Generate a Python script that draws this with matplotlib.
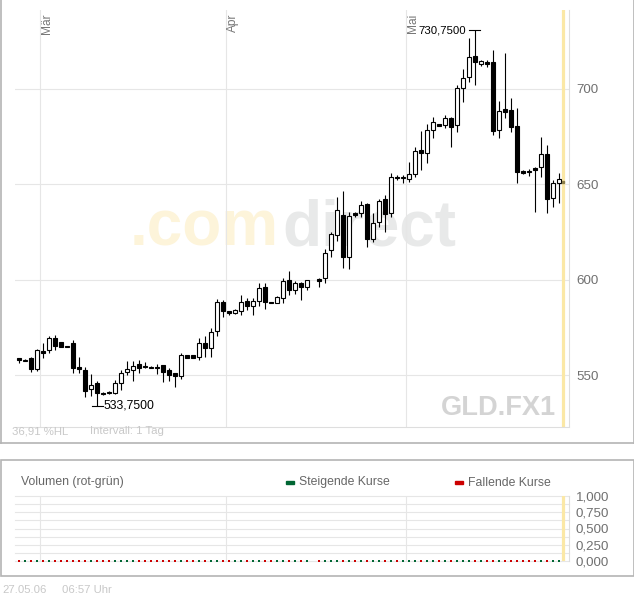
import matplotlib
matplotlib.use("Agg")
import matplotlib.pyplot as plt
import numpy as np
import pandas as pd
from matplotlib.patches import Rectangle
from matplotlib.lines import Line2D
from matplotlib.ticker import FuncFormatter

W, H = 634, 597
plt.rcParams['font.family'] = ['Liberation Sans', 'DejaVu Sans']

# ---------------- data ----------------
start_day = "2006-02-25"
end_day = "2006-05-26"
missing_days = ["2006-04-15"]
month_starts = ["2006-03-01", "2006-04-01", "2006-05-01"]
month_labels = ["Mär", "Apr", "Mai"]

opens = [558.9, 557.4, 559.1, 553.1, 562.6, 563.1, 569.2, 567.1, 565.4, 566.6,
         554.2, 552.6, 542.5, 546.0, 540.4, 541.0, 540.4, 546.0, 551.7, 552.6,
         555.8, 554.9, 554.4, 554.4, 555.2, 552.6, 551.2, 549.7, 560.5, 560.5,
         559.3, 566.6, 564.0, 573.1, 588.5, 583.6, 582.3, 583.7, 589.0, 586.2,
         588.8, 596.0, 588.5, 587.9, 590.6, 599.8, 594.6, 598.4, 596.3,
         600.2, 600.7, 615.5, 623.4, 634.0, 611.7, 634.8, 635.1, 639.7, 621.2,
         630.4, 642.5, 635.1, 654.0, 653.3, 652.6, 655.4, 668.0, 666.3, 678.5,
         681.5, 681.1, 684.6, 681.1, 700.3, 706.1, 717.3, 713.0, 714.3, 714.0,
         678.5, 689.3, 689.0, 680.6, 656.8, 657.1, 658.4, 658.9, 665.7, 642.7, 650.5]
highs = [559.0, 558.3, 559.6, 563.5, 566.6, 570.5, 571.0, 567.5, 565.4, 568.4,
         559.6, 554.4, 550.5, 546.7, 541.3, 541.8, 547.4, 552.6, 557.3, 557.2,
         557.9, 557.0, 554.5, 555.8, 555.5, 553.5, 551.2, 561.7, 560.5, 560.5,
         569.2, 570.5, 574.5, 589.7, 589.3, 583.6, 584.5, 591.8, 590.2, 590.4,
         598.1, 598.4, 588.5, 591.4, 600.7, 604.7, 599.3, 598.9, 599.8,
         600.7, 615.9, 625.1, 643.2, 646.7, 635.7, 635.7, 641.1, 640.4, 635.1,
         642.5, 644.4, 655.8, 654.9, 654.9, 661.9, 669.8, 678.1, 681.5, 685.1,
         681.6, 686.4, 685.5, 702.1, 710.3, 726.6, 730.75, 715.2, 715.2, 720.5,
         693.7, 718.7, 695.1, 689.9, 657.5, 658.0, 659.3, 675.0, 670.6, 652.3, 655.8]
lows = [556.5, 557.3, 551.7, 552.3, 558.7, 561.4, 563.1, 564.5, 564.9, 551.2,
        550.9, 538.3, 539.0, 533.75, 539.5, 539.9, 540.0, 542.1, 550.0, 547.0,
        551.2, 553.5, 553.6, 550.5, 546.5, 547.0, 543.9, 547.7, 558.7, 558.7,
        557.9, 559.6, 559.6, 570.5, 580.6, 581.5, 582.0, 581.5, 584.1, 581.5,
        586.2, 584.4, 587.6, 587.6, 587.9, 592.0, 592.5, 589.3, 594.6,
        596.3, 598.4, 611.7, 620.5, 606.3, 605.5, 633.0, 633.0, 617.3, 619.9,
        627.8, 625.2, 633.0, 652.3, 650.5, 651.4, 654.0, 657.5, 661.0, 674.1,
        680.7, 679.4, 669.8, 677.6, 693.4, 703.8, 702.1, 712.1, 711.4, 675.9,
        674.1, 684.6, 677.6, 650.5, 655.4, 654.5, 635.3, 654.0, 634.8, 637.9, 640.0]
closes = [557.7, 558.0, 553.3, 563.1, 561.7, 569.6, 565.2, 564.9, 564.9, 553.8,
          553.0, 541.8, 544.9, 540.4, 539.9, 540.4, 545.6, 550.9, 553.1, 554.7,
          553.8, 554.0, 553.7, 553.7, 551.7, 550.0, 549.7, 560.5, 558.7, 558.7,
          566.6, 564.0, 572.7, 588.5, 583.7, 582.7, 583.9, 588.1, 586.2, 588.8,
          595.5, 588.5, 587.6, 590.7, 599.3, 594.6, 598.4, 596.3, 599.8,
          599.5, 613.8, 623.9, 636.5, 611.7, 633.4, 634.0, 639.0, 621.2, 629.5,
          641.1, 634.3, 654.0, 653.3, 654.0, 655.4, 667.7, 666.3, 678.5, 682.5,
          680.8, 684.6, 680.2, 700.3, 705.6, 716.6, 714.3, 714.7, 712.9, 678.0,
          688.6, 688.1, 679.9, 656.6, 655.9, 656.6, 657.5, 665.7, 642.1, 650.5, 652.6]
last_price = 651.0
price_ticks = [550, 600, 650, 700]
volume_ticks = [0.0, 0.25, 0.5, 0.75, 1.0]

# ---------------- helpers ----------------
start = pd.Timestamp(start_day)
days = pd.date_range(start_day, end_day, freq="D").drop(pd.to_datetime(missing_days))
xs = np.array((days - start).days, dtype=float)
O, Hh, L, C = map(np.array, (opens, highs, lows, closes))
month_x = [(pd.Timestamp(m) - start).days - 0.5 for m in month_starts]
last_x = xs[-1] + 0.67

def rect(x0, y0, x1, y1):
    return [x0 / W, 1 - y1 / H, (x1 - x0) / W, (y1 - y0) / H]

def ftext(x, y, s, **kw):
    return fig.text(x / W, 1 - y / H, s, **kw)

GRID = "#e6e6e6"
YEL = "#fbe8a6"

fig = plt.figure(figsize=(W / 100, H / 100), dpi=100)
fig.patch.set_facecolor("white")

# panel borders
bc = "#b4b4b4"
for (x0, y0, x1, y1) in [(0.5, 0, 0.5, 443), (0, 443, 633.5, 443), (633.5, 0, 633.5, 443)]:
    fig.add_artist(Line2D([x0 / W, x1 / W], [1 - y0 / H, 1 - y1 / H], color=bc, lw=1.2))
fig.add_artist(Rectangle((0.5 / W, 1 - 576 / H), 633 / W, 116 / H, fill=False,
                         edgecolor=bc, lw=1.2, transform=fig.transFigure))

# ---------------- price axes ----------------
AX_L, AX_T, AX_R, AX_B = 15, 10, 569, 426.5
ax = fig.add_axes(rect(AX_L, AX_T, AX_R, AX_B))
ax.set_xlim(-0.667, 91.667)
ax.set_ylim(523.0, 741.4)
for s in ["top", "left"]:
    ax.spines[s].set_visible(False)
for s in ["right", "bottom"]:
    ax.spines[s].set_color("#dedede")
    ax.spines[s].set_linewidth(0.8)
ax.yaxis.tick_right()
ax.set_yticks(price_ticks)
ax.tick_params(axis="y", length=0, pad=5, labelsize=9.6, labelcolor="#707070")
ax.set_xticks([])
for v in price_ticks:
    ax.axhline(v, color=GRID, lw=0.8, zorder=1)
for mx, lab in zip(month_x, month_labels):
    ax.axvline(mx, color=GRID, lw=0.8, zorder=1)
    ax.text(mx + 0.12, 739.6, lab, rotation=90, ha="left", va="top",
            fontsize=8.6, color="#777777")

def axpx(x, y):
    return ((x - AX_L) / (AX_R - AX_L), 1 - (y - AX_T) / (AX_B - AX_T))

# watermark
ax.text(*axpx(130, 245), ".com", transform=ax.transAxes, ha="left", va="baseline",
        fontsize=46, fontweight="bold", color="#fdf4da", zorder=0)
ax.text(*axpx(456, 245), "direct", transform=ax.transAxes, ha="right", va="baseline",
        fontsize=46, fontweight="bold", color="#e8e9e9", zorder=0)
ax.text(*axpx(556, 415), "GLD.FX1", transform=ax.transAxes, ha="right", va="baseline",
        fontsize=19.6, fontweight="bold", color="#d4d4d4", zorder=0)

# yellow marker line
ax.axvline(last_x, color=YEL, lw=2.3, zorder=2)

# candles
up = C >= O
ax.vlines(xs, L, Hh, color="black", lw=0.8, zorder=3)
body_h = np.maximum(np.abs(C - O), 0.5)
body_b = np.minimum(O, C)
ax.bar(xs, body_h, bottom=body_b, width=0.52,
       color=np.where(up, "white", "black"), edgecolor="black",
       linewidth=0.8, zorder=4)
ax.plot([last_x], [last_price], marker="s", ms=1.8, color="#8a7c48", zorder=5)

# high / low annotations
fmt = lambda v: f"{v:.4f}".replace(".", ",")
ih = int(np.argmax(Hh)); il = int(np.argmin(L))
hv, lv = Hh[ih], L[il]
ax.plot([xs[ih] - 0.95, xs[ih] + 0.8], [hv, hv], color="black", lw=0.8, zorder=5)
ax.text(xs[ih] - 1.55, hv, fmt(hv), ha="right", va="center", fontsize=8.2, color="black")
ax.plot([xs[il] - 0.8, xs[il] + 1.05], [lv, lv], color="black", lw=0.8, zorder=5)
ax.text(xs[il] + 1.15, lv, fmt(lv), ha="left", va="center", fontsize=8.8, color="black")

# footer texts of price panel
ftext(12, 431.5, "36,91 %HL", fontsize=8.2, color="#c8c8c8", va="center")
ftext(90, 431.5, "Intervall: 1 Tag", fontsize=8.2, color="#c8c8c8", va="center")

# ---------------- volume axes ----------------
vax = fig.add_axes(rect(15, 496.0, 569, 561.0))
vax.set_xlim(-0.667, 91.667)
vax.set_ylim(0, 1)
for s in ["top", "left", "bottom"]:
    vax.spines[s].set_visible(False)
vax.spines["right"].set_color("#dedede")
vax.spines["right"].set_linewidth(0.8)
vax.yaxis.tick_right()
vax.set_yticks(volume_ticks)
vax.yaxis.set_major_formatter(FuncFormatter(lambda v, p: f"{v:.3f}".replace(".", ",")))
vax.tick_params(axis="y", length=0, pad=5, labelsize=9.6, labelcolor="#707070")
vax.set_xticks([])
for v in np.arange(0, 1.001, 0.125):
    vax.axhline(v, color=GRID, lw=0.8, zorder=1, clip_on=False)
for mx in month_x:
    vax.axvline(mx, color=GRID, lw=0.8, zorder=1)
vax.axvline(last_x, color=YEL, lw=2.3, zorder=2)
vax.scatter(xs, np.zeros_like(xs), s=1.2, marker="s",
            c=np.where(up, "#006633", "#cc0000"), zorder=3, clip_on=False, linewidths=0)

ftext(21, 482.5, "Volumen (rot-grün)", fontsize=8.8, color="#666666", va="center")
fig.add_artist(Rectangle((286 / W, 1 - 484 / H), 8 / W, 3 / H, color="#006633",
                         transform=fig.transFigure))
ftext(299, 482.5, "Steigende Kurse", fontsize=8.8, color="#666666", va="center")
fig.add_artist(Rectangle((455 / W, 1 - 484 / H), 8 / W, 3 / H, color="#cc0000",
                         transform=fig.transFigure))
ftext(468, 482.5, "Fallende Kurse", fontsize=8.8, color="#666666", va="center")

ftext(2, 590, "27.05.06", fontsize=8.2, color="#c8c8c8", va="center")
ftext(62, 590, "06:57 Uhr", fontsize=8.2, color="#c8c8c8", va="center")

fig.savefig("out.png", dpi=100, facecolor="white")
